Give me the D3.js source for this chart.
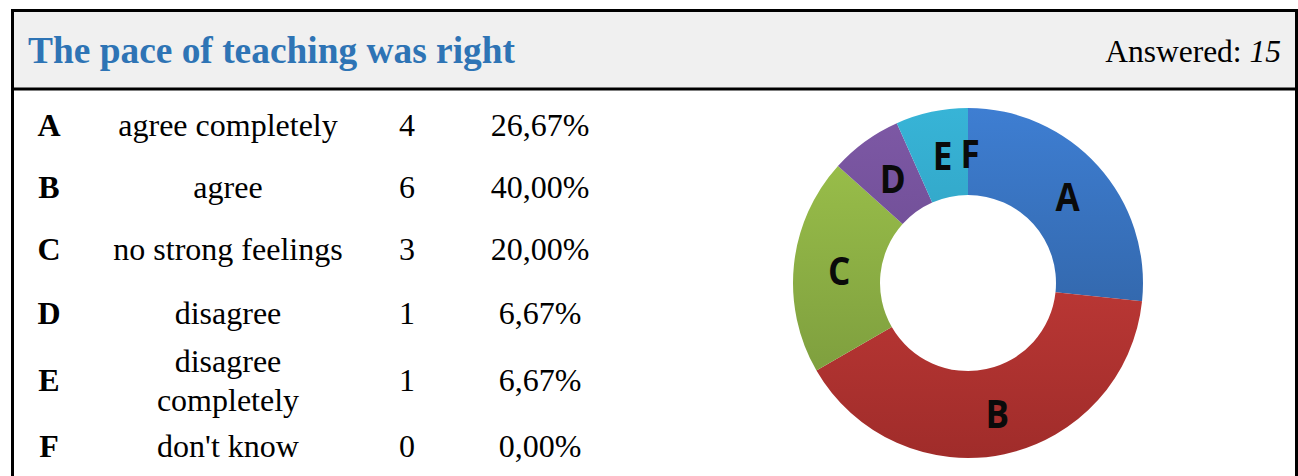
<!DOCTYPE html>
<html>
<head>
<meta charset="utf-8">
<script src="https://cdn.jsdelivr.net/npm/d3@7"></script>
<style>
  body { margin: 0; background: white; }
  svg { display: block; }
</style>
</head>
<body>
<div id="chart"></div>
<script>
const title = "The pace of teaching was right";
const answered = 15;
const letters = ["A", "B", "C", "D", "E", "F"];
const answers = [
  ["agree completely"],
  ["agree"],
  ["no strong feelings"],
  ["disagree"],
  ["disagree", "completely"],
  ["don't know"],
];
const counts = [4, 6, 3, 1, 1, 0];
const percents = ["26,67%", "40,00%", "20,00%", "6,67%", "6,67%", "0,00%"];
const colorsTop = ["#3e7ed2", "#d4423f", "#9fc54c", "#7e59a6", "#37b4d7", "#37b4d7"];
const colorsBottom = ["#2b5892", "#a02c2a", "#74933a", "#5d4081", "#2a8dab", "#2a8dab"];

const width = 1298;
const height = 476;

const svg = d3
  .select("#chart")
  .append("svg")
  .attr("width", width)
  .attr("height", height);

// header band
svg.append("rect")
  .attr("x", 12).attr("y", 11)
  .attr("width", 1286).attr("height", 77)
  .attr("fill", "#f0f0f0");

svg.append("text")
  .attr("x", 28).attr("y", 63)
  .attr("font-family", "'Liberation Serif', 'Times New Roman', serif")
  .attr("font-weight", "bold")
  .attr("font-size", 38)
  .attr("textLength", 487)
  .attr("lengthAdjust", "spacingAndGlyphs")
  .attr("fill", "#2e74b5")
  .text(title);

const ans = svg.append("text")
  .attr("x", 1281).attr("y", 62)
  .attr("text-anchor", "end")
  .attr("font-family", "'Liberation Serif', 'Times New Roman', serif")
  .attr("font-size", 31.5)
  .attr("fill", "#000");
ans.append("tspan").text("Answered: ");
ans.append("tspan").attr("font-style", "italic").text(answered);

// frame
svg.append("rect")
  .attr("x", 12.5).attr("y", 10.5)
  .attr("width", 1284).attr("height", 520)
  .attr("fill", "none")
  .attr("stroke", "#000")
  .attr("stroke-width", 3);
svg.append("line")
  .attr("x1", 12).attr("x2", 1298)
  .attr("y1", 89).attr("y2", 89)
  .attr("stroke", "#000")
  .attr("stroke-width", 3);

// table
const rowY = d3.scaleOrdinal().domain(letters).range([125, 187, 249, 313, 380, 446]);
const fontBody = "'Liberation Serif', 'Times New Roman', serif";
const rows = svg.selectAll("g.row")
  .data(letters.map((l, i) => ({ l, a: answers[i], c: counts[i], p: percents[i] })))
  .join("g")
  .attr("class", "row")
  .attr("transform", d => `translate(0, ${rowY(d.l)})`)
  .attr("font-family", fontBody)
  .attr("font-size", 32)
  .attr("fill", "#000");

rows.append("text")
  .attr("x", 49).attr("dy", "0.35em")
  .attr("text-anchor", "middle")
  .attr("font-weight", "bold")
  .text(d => d.l);

rows.each(function (d) {
  const n = d.a.length;
  d3.select(this).selectAll("text.ans")
    .data(d.a)
    .join("text")
    .attr("class", "ans")
    .attr("x", 228)
    .attr("y", (t, j) => (j - (n - 1) / 2) * 39)
    .attr("dy", "0.35em")
    .attr("text-anchor", "middle")
    .text(t => t);
});

rows.append("text")
  .attr("x", 407).attr("dy", "0.35em")
  .attr("text-anchor", "middle")
  .text(d => d.c);

rows.append("text")
  .attr("x", 540).attr("dy", "0.35em")
  .attr("text-anchor", "middle")
  .text(d => d.p);

// donut
const cx = 968, cy = 283;
const outerR = 175, innerR = 88;

const defs = svg.append("defs");
letters.forEach((l, i) => {
  const g = defs.append("linearGradient")
    .attr("id", "grad" + l)
    .attr("gradientUnits", "userSpaceOnUse")
    .attr("x1", 0).attr("y1", -outerR)
    .attr("x2", 0).attr("y2", outerR);
  g.append("stop").attr("offset", "0%").attr("stop-color", colorsTop[i]);
  g.append("stop").attr("offset", "100%").attr("stop-color", colorsBottom[i]);
});

const pie = d3.pie().sort(null).value(d => d.c);
const arc = d3.arc().innerRadius(innerR).outerRadius(outerR);
const pieData = pie(letters.map((l, i) => ({ l, c: counts[i] })));

const donut = svg.append("g").attr("transform", `translate(${cx}, ${cy})`);

donut.selectAll("path")
  .data(pieData)
  .join("path")
  .attr("d", arc)
  .attr("fill", d => `url(#grad${d.data.l})`);

donut.selectAll("text")
  .data(pieData)
  .join("text")
  .attr("transform", d => {
    const [x, y] = arc.centroid(d);
    return `translate(${x + 2}, ${y + 2}) scale(0.9, 1)`;
  })
  .attr("dy", "0.36em")
  .attr("text-anchor", "middle")
  .attr("font-family", "'Open Sans', 'Liberation Sans', sans-serif")
  .attr("font-weight", "bold")
  .attr("font-size", 39)
  .attr("fill", "#0a0a0a")
  .text(d => d.data.l);
</script>
</body>
</html>
